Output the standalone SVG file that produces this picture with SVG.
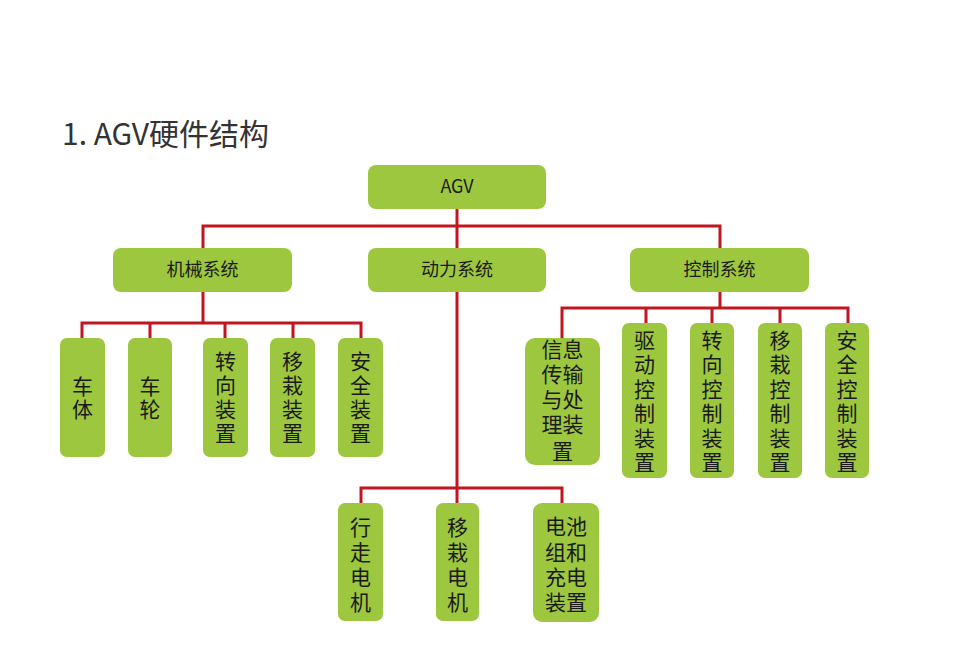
<svg xmlns="http://www.w3.org/2000/svg" width="960" height="647" viewBox="0 0 960 647">
<style>
.box{fill:#9dc73e;}
.t{font-family:"Noto Sans CJK SC","Microsoft YaHei",sans-serif;fill:#1a1a1a;text-anchor:middle;}
.h{font-size:18px;}
.v{font-size:21px;}
.col{writing-mode:vertical-rl;font-size:21px;letter-spacing:3.5px;}
.ln{stroke:#c0161f;stroke-width:3;fill:none;stroke-linejoin:miter;}
</style>
<rect width="960" height="647" fill="#ffffff"/>
<text x="62" y="145" font-family="Noto Sans CJK SC, sans-serif" font-size="30" fill="#333333">1. AGV硬件结构</text>
<g id="connectors">
<path class="ln" d="M457 209 V248 M203 248 V226 H720 V248"/>
<path class="ln" d="M203 292 V323 M82 338 V323 H361 V338 M150 323 V338 M225 323 V338 M293 323 V338"/>
<path class="ln" d="M457 292 V503 M361 503 V488 H562 V503"/>
<path class="ln" d="M720 292 V308 M562 338 V308 H848 V323 M646 308 V323 M712 308 V323 M780 308 V323"/>
</g>
<g id="agv"><rect class="box" x="368" y="165" width="178" height="44" rx="8"/><text class="t h" x="457" y="193">AGV</text></g>
<g id="jixie"><rect class="box" x="113" y="248" width="179" height="44" rx="8"/><text class="t h" x="202.5" y="276">机械系统</text></g>
<g id="dongli"><rect class="box" x="368" y="248" width="178" height="44" rx="8"/><text class="t h" x="457" y="276">动力系统</text></g>
<g id="kongzhi"><rect class="box" x="630" y="248" width="179" height="44" rx="8"/><text class="t h" x="719.5" y="276">控制系统</text></g>
<g id="cheti"><rect class="box" x="60" y="338" width="45" height="119" rx="7"/><text class="t col" x="82.5" y="399" style="letter-spacing:2px">车体</text></g>
<g id="chelun"><rect class="box" x="128" y="338" width="44" height="119" rx="7"/><text class="t col" x="150" y="399" style="letter-spacing:2px">车轮</text></g>
<g id="zhuanxiang"><rect class="box" x="203" y="338" width="45" height="119" rx="7"/><text class="t col" x="225.5" y="399" style="letter-spacing:3px">转向装置</text></g>
<g id="yizai"><rect class="box" x="270" y="338" width="45" height="119" rx="7"/><text class="t col" x="292.5" y="399" style="letter-spacing:3px">移栽装置</text></g>
<g id="anquan"><rect class="box" x="338" y="338" width="45" height="119" rx="7"/><text class="t col" x="360.5" y="399" style="letter-spacing:3px">安全装置</text></g>
<g id="xingzou"><rect class="box" x="338" y="503" width="45" height="118" rx="7"/><text class="t col" x="360.5" y="567" style="letter-spacing:4px">行走电机</text></g>
<g id="yizaidianji"><rect class="box" x="436" y="503" width="43" height="118" rx="7"/><text class="t col" x="457.5" y="567" style="letter-spacing:4px">移栽电机</text></g>
<g id="dianchi"><rect class="box" x="533" y="503" width="66" height="119" rx="9"/><text class="t v" x="566" y="534">电池<tspan x="566" y="560">组和</tspan><tspan x="566" y="585">充电</tspan><tspan x="566" y="610">装置</tspan></text></g>
<g id="xinxi"><rect class="box" x="525" y="338" width="75" height="127" rx="10"/><text class="t v" x="562.5" y="357">信息<tspan x="562.5" y="382">传输</tspan><tspan x="562.5" y="407">与处</tspan><tspan x="562.5" y="432">理装</tspan><tspan x="562.5" y="459">置</tspan></text></g>
<g id="qudong"><rect class="box" x="622" y="323" width="45" height="155" rx="7"/><text class="t col" x="644.5" y="403">驱动控制装置</text></g>
<g id="zhuanxiangkz"><rect class="box" x="690" y="323" width="44" height="155" rx="7"/><text class="t col" x="712" y="403">转向控制装置</text></g>
<g id="yizaikz"><rect class="box" x="758" y="323" width="44" height="155" rx="7"/><text class="t col" x="780" y="403">移栽控制装置</text></g>
<g id="anquankz"><rect class="box" x="825" y="323" width="44" height="155" rx="7"/><text class="t col" x="847" y="403">安全控制装置</text></g>
</svg>
